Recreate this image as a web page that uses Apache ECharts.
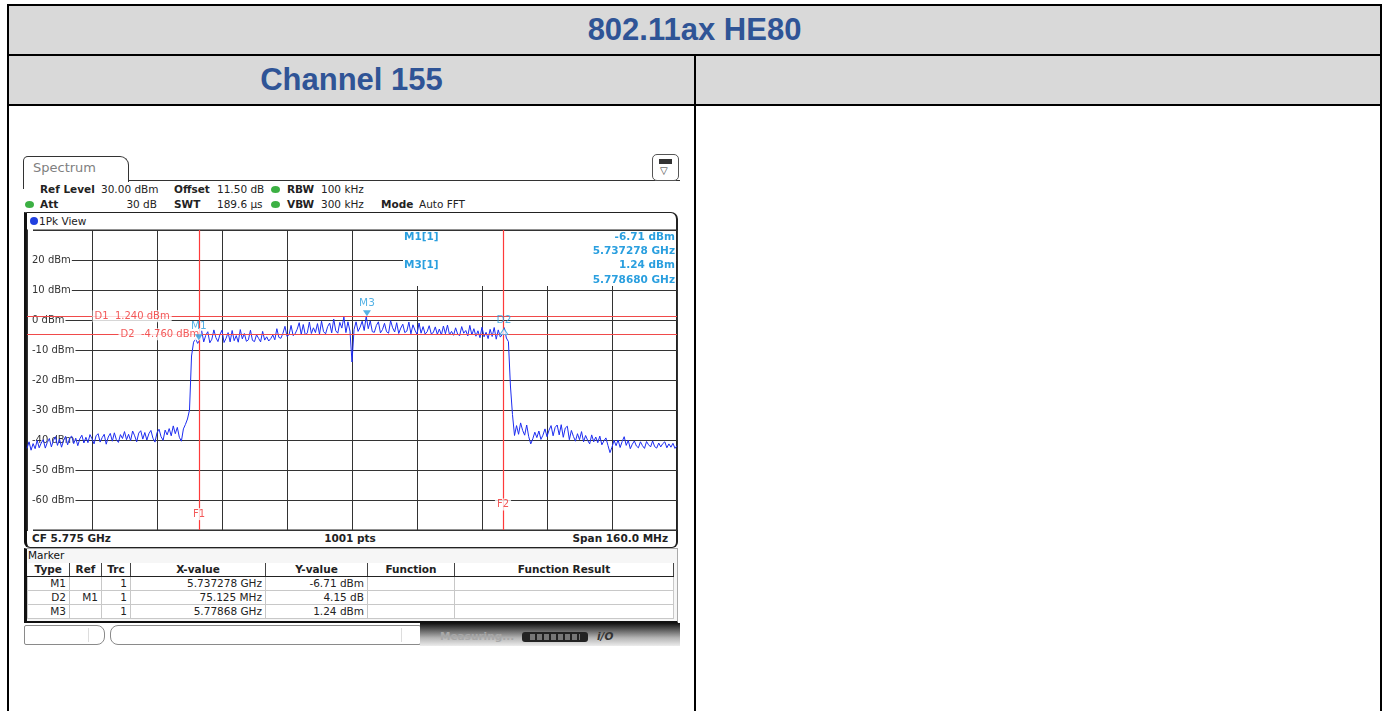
<!DOCTYPE html>
<html>
<head>
<meta charset="utf-8">
<title>802.11ax HE80 - Channel 155</title>
<script src="https://cdn.jsdelivr.net/npm/echarts@6/dist/echarts.min.js"></script>
<style>
html, body { margin: 0; padding: 0; overflow: hidden; background: #fff; font-family: "DejaVu Sans", sans-serif; }
.abs { position: absolute; box-sizing: border-box; }
.cell { border: 2px solid #000; }
.hd { background: #d9d9d9; color: #2f5496; font-family: "Liberation Sans", Arial, sans-serif; font-weight: bold; font-size: 31px; text-align: center; line-height: 48px; }
.t { position: absolute; font-size: 10.5px; line-height: 12px; color: #222; white-space: nowrap; }
.b { font-weight: bold; }
.dot { position: absolute; width: 9px; height: 7px; border-radius: 50%; background: #3cb043; }
.mk { position: absolute; left: 27px; top: 563px; border-collapse: collapse; table-layout: fixed; width: 646px; font-size: 10.5px; color: #222; }
.mk th { font-weight: bold; height: 13px; line-height: 13px; padding: 0; border-right: 1px solid #444; border-bottom: 1px solid #222; text-align: center; background: #fff; }
.mk td { height: 13px; line-height: 13px; padding: 0 3px 0 0; border: 1px solid #c8c8c8; text-align: right; background: #fff; white-space: nowrap; }
</style>
</head>
<body>
<!-- report table -->
<div class="abs cell hd" style="left:7px;top:4px;width:1375px;height:52px;">802.11ax HE80</div>
<div class="abs cell hd" style="left:7px;top:54px;width:689px;height:52px;">Channel 155</div>
<div class="abs cell hd" style="left:694px;top:54px;width:688px;height:52px;"></div>
<div class="abs cell" style="left:7px;top:104px;width:689px;height:620px;"></div>
<div class="abs cell" style="left:694px;top:104px;width:688px;height:620px;"></div>

<!-- analyzer header -->
<div class="abs" style="left:23px;top:156px;width:106px;height:26px;border:1px solid #333;border-bottom:none;border-radius:5px 9px 0 0;"></div>
<div class="abs" style="left:23px;top:181px;width:1px;height:8px;background:#333;"></div>
<div class="abs" style="left:128px;top:180px;width:552px;height:1px;background:#333;"></div>
<div class="t" style="left:33px;top:160px;font-size:13px;line-height:16px;color:#808080;">Spectrum</div>
<div class="abs" style="left:652px;top:154px;width:27px;height:27px;border:1px solid #555;border-radius:5px;background:#fff;"></div>
<div class="abs" style="left:659px;top:159px;width:13px;height:5px;background:#333;"></div>
<div class="t" style="left:660px;top:165px;font-size:10px;color:#333;">▽</div>

<div class="t b" style="left:40px;top:183px;">Ref Level</div>
<div class="t" style="left:101px;top:183px;">30.00 dBm</div>
<div class="t b" style="left:174px;top:183px;">Offset</div>
<div class="t" style="left:217px;top:183px;">11.50 dB</div>
<div class="dot" style="left:271px;top:186px;"></div>
<div class="t b" style="left:287px;top:183px;">RBW</div>
<div class="t" style="left:321px;top:183px;">100 kHz</div>

<div class="dot" style="left:25px;top:201px;"></div>
<div class="t b" style="left:40px;top:198px;">Att</div>
<div class="t" style="left:117px;top:198px;width:40px;text-align:right;">30 dB</div>
<div class="t b" style="left:174px;top:198px;">SWT</div>
<div class="t" style="left:217px;top:198px;">189.6 µs</div>
<div class="dot" style="left:271px;top:201px;"></div>
<div class="t b" style="left:287px;top:198px;">VBW</div>
<div class="t" style="left:321px;top:198px;">300 kHz</div>
<div class="t b" style="left:381px;top:198px;">Mode</div>
<div class="t" style="left:419px;top:198px;">Auto FFT</div>

<!-- plot frame -->
<div class="abs" style="left:24px;top:212px;width:654px;height:336px;border:1px solid #222;border-left:3px solid #111;border-right:2px solid #222;border-radius:0 7px 6px 6px;"></div>
<div class="abs" style="left:30px;top:217px;width:8px;height:8px;border-radius:50%;background:#2040e0;"></div>
<div class="t" style="left:39px;top:215px;">1Pk View</div>
<div class="t b" style="left:32px;top:532px;">CF 5.775 GHz</div>
<div class="t b" style="left:300px;top:532px;width:100px;text-align:center;">1001 pts</div>
<div class="t b" style="left:548px;top:532px;width:120px;text-align:right;">Span 160.0 MHz</div>

<!-- marker table -->
<div class="abs" style="left:24px;top:548px;width:654px;height:75px;background:#f6f6f6;border:1px solid #aaa;border-left:3px solid #111;border-bottom:2px solid #111;"></div>
<div class="t" style="left:28px;top:549px;color:#111;">Marker</div>
<table class="mk">
<colgroup><col style="width:42px"><col style="width:32px"><col style="width:29px"><col style="width:135px"><col style="width:102px"><col style="width:87px"><col style="width:219px"></colgroup>
<tr><th>Type</th><th>Ref</th><th>Trc</th><th>X-value</th><th>Y-value</th><th>Function</th><th>Function Result</th></tr>
<tr><td>M1</td><td></td><td>1</td><td>5.737278 GHz</td><td>-6.71 dBm</td><td></td><td></td></tr>
<tr><td>D2</td><td>M1</td><td>1</td><td>75.125 MHz</td><td>4.15 dB</td><td></td><td></td></tr>
<tr><td>M3</td><td></td><td>1</td><td>5.77868 GHz</td><td>1.24 dBm</td><td></td><td></td></tr>
</table>

<!-- status bar -->
<div class="abs" style="left:24px;top:625px;width:81px;height:20px;border:1px solid #8a8a8a;border-radius:2px 8px 8px 2px;background:#fff;"></div>
<div class="abs" style="left:88px;top:628px;width:1px;height:14px;background:#ddd;"></div>
<div class="abs" style="left:110px;top:625px;width:311px;height:20px;border:1px solid #8a8a8a;border-radius:8px 2px 2px 8px;background:#fff;"></div>
<div class="abs" style="left:401px;top:628px;width:1px;height:14px;background:#ddd;"></div>
<div class="abs" style="left:420px;top:623px;width:260px;height:23px;background:linear-gradient(#111 0%, #444 20%, #b5b5b5 65%, #ececec 100%);"></div>
<div class="t b" style="left:440px;top:630px;color:#a8a8a8;">Measuring...</div>
<div class="abs" style="left:522px;top:632px;width:66px;height:10px;background:#222;border-radius:3px;"></div>
<div class="abs" style="left:530px;top:634px;width:50px;height:6px;background:repeating-linear-gradient(90deg,#777 0 5px,#222 5px 7px);"></div>
<div class="t b" style="left:597px;top:630px;color:#333;font-style:italic;">i/O</div>

<div id="plot" class="abs" style="left:24px;top:210px;width:658px;height:340px;"></div>

<script>
// sweep: CF 5.775 GHz, span 160 MHz, x = offset from CF in MHz
const startMHz = -80;
const stepMHz = 0.5;

// trace levels (dBm), every 0.5 MHz
const traceLevel = [
  // -80 .. -40.5 MHz
  -42.8, -40.6, -43.4, -41.2, -42.9, -40.1, -42.6, -41.0, -39.9, -42.7,
  -40.8, -39.5, -42.3, -40.1, -38.9, -41.8, -39.7, -42.4, -40.2, -38.8,
  -41.6, -39.3, -38.7, -41.2, -39.4, -41.9, -39.6, -38.4, -41.0, -39.1,
  -40.9, -38.2, -39.6, -41.3, -38.6, -37.9, -40.7, -39.2, -38.1, -41.4,
  -39.0, -37.8, -40.4, -37.6, -39.9, -40.8, -38.2, -39.5, -37.2, -39.9,
  -38.1, -40.2, -37.0, -38.6, -40.6, -37.7, -36.9, -39.7, -37.5, -40.0,
  -37.9, -36.8, -39.4, -40.7, -37.6, -36.4, -38.9, -40.1, -36.7, -38.3,
  -36.2, -38.6, -35.3, -37.9, -35.8, -39.1, -40.4, -36.3, -34.8, -33.0,
  // -40 .. -0.5 MHz
  -30.0, -12.0, -7.4, -6.2, -7.8, -6.7, -3.6, -7.3, -5.1, -3.9,
  -7.6, -6.4, -3.3, -5.9, -7.2, -4.8, -3.4, -7.5, -6.1, -4.2,
  -7.3, -3.5, -6.9, -5.2, -7.4, -3.2, -6.3, -4.5, -7.1, -6.6,
  -3.4, -6.8, -7.2, -4.9, -6.1, -7.3, -3.8, -6.7, -5.6, -7.0,
  -6.2, -5.0, -6.6, -2.9, -5.8, -6.1, -4.4, -2.1, -5.5, -4.9,
  -1.8, -5.2, -4.6, -3.1, -0.9, -4.8, -1.5, -5.0, -4.3, -0.7,
  -4.5, -2.6, -4.2, -1.2, -4.7, -0.4, -3.9, -4.6, -2.2, -1.0,
  -4.3, 0.3, -3.6, -4.4, -0.8, -2.7, 1.0, -4.2, -0.6, -3.7,
  // 0 MHz (DC notch)
  -14.0,
  // 0.5 .. 40 MHz
  -3.2, -0.6, -3.8, -2.4, -0.4, -3.5, 1.24, -2.9, -0.3, -3.9,
  -4.1, -1.8, -0.6, -4.3, -3.2, -1.1, -3.9, -4.4, -0.2, -2.6,
  -4.0, -0.9, -4.5, -2.7, -1.4, -4.2, -3.7, -0.7, -4.6, -1.6,
  -3.4, -4.8, -1.0, -4.4, -2.2, -4.7, -3.9, -1.9, -4.6, -4.2,
  -2.3, -4.8, -3.0, -5.0, -2.0, -4.6, -1.7, -4.9, -3.8, -5.1,
  -2.6, -4.7, -5.2, -2.2, -4.4, -3.5, -5.3, -1.8, -5.0, -2.9,
  -5.4, -3.6, -5.9, -2.4, -5.6, -4.1, -6.2, -3.1, -5.5, -2.5,
  -6.4, -3.3, -5.7, -4.8, -2.56, -6.0, -7.2, -22.0, -31.5, -38.5,
  // 40.5 .. 80 MHz
  -35.2, -38.1, -34.3, -36.8, -38.4, -35.0, -38.9, -41.3, -39.6, -37.4,
  -39.2, -37.0, -39.8, -38.4, -36.3, -38.9, -36.7, -35.2, -38.6, -35.8,
  -35.0, -38.3, -34.9, -39.1, -36.0, -35.4, -39.9, -36.8, -38.8, -40.4,
  -37.9, -39.9, -37.2, -40.6, -38.5, -40.1, -41.3, -38.3, -40.6, -39.0,
  -40.9, -38.7, -41.6, -40.3, -39.3, -41.8, -44.2, -42.4, -40.1, -41.9,
  -40.0, -42.5, -40.5, -38.9, -41.8, -40.1, -42.9, -41.4, -40.3, -42.0,
  -42.6, -40.6, -41.9, -42.8, -40.5, -41.6, -42.3, -40.3, -42.2, -42.7,
  -41.0, -42.3, -41.2, -40.6, -42.6, -41.3, -42.4, -41.1, -42.8, -41.9
];

// markers
const markerNames = ['M1', 'M3', 'D2'];
const markerFreqMHz = [-37.722, 3.68, 37.403];
const markerLevel = [-6.71, 1.24, -2.56];

// display lines D1/D2 and frequency lines F1/F2
const displayLineLevel = [1.24, -4.76];
const freqLineMHz = [-37.66, 37.17];

// red line labels
const lineLabelText = ['D1  1.240 dBm', 'D2  -4.760 dBm', 'F1', 'F2'];
const lineLabelFreq = [-64, -57.6, -37.66, 37.17];
const lineLabelLevel = [1.24, -4.76, -64.7, -61.5];

// marker info box
const infoLeft = ['M1[1]', '', 'M3[1]', ''];
const infoRight = ['-6.71 dBm', '5.737278 GHz', '1.24 dBm', '5.778680 GHz'];

const traceData = traceLevel.map(function (v, i) { return [startMHz + i * stepMHz, v]; });

const blue = '#2a9fdf';
const red = '#f0302f';
const infoFont = 'bold 10.5px "DejaVu Sans"';

let chart = echarts.init(document.getElementById('plot'));

let graphics = [{
    type: 'rect', z: 1,
    shape: { x: 379, y: 21, width: 273, height: 55 },
    style: { fill: '#fff' }
}];
const infoY = [27, 41, 55.5, 70];
infoY.forEach(function (y, i) {
    if (infoLeft[i]) {
        graphics.push({ type: 'text', z: 5, style: { text: infoLeft[i], x: 380, y: y, fill: blue, font: infoFont, textAlign: 'left', align: 'left', textVerticalAlign: 'middle', verticalAlign: 'middle' } });
    }
    graphics.push({ type: 'text', z: 5, style: { text: infoRight[i], x: 651, y: y, fill: blue, font: infoFont, textAlign: 'right', align: 'right', textVerticalAlign: 'middle', verticalAlign: 'middle' } });
});

let option = {
    animation: false,
    grid: { left: 3, top: 20, width: 650, height: 300, show: true, borderColor: '#222', borderWidth: 1, backgroundColor: 'rgba(0,0,0,0)' },
    xAxis: {
        type: 'value', min: -80, max: 80, interval: 16,
        axisLabel: { show: false }, axisTick: { show: false }, axisLine: { show: false },
        splitLine: { lineStyle: { color: '#333', width: 1 } }
    },
    yAxis: {
        type: 'value', min: -70, max: 30, interval: 10,
        axisLine: { show: false }, axisTick: { show: false },
        splitLine: { lineStyle: { color: '#333', width: 1 } },
        axisLabel: {
            inside: true, margin: 1,
            formatter: function (v) { return (v === 30 || v === -70) ? '' : v + ' dBm'; },
            color: '#333', fontSize: 10, fontFamily: 'DejaVu Sans',
            backgroundColor: '#fff', padding: [1, 1, 1, 4]
        }
    },
    graphic: graphics,
    series: [{
        name: '1Pk View',
        type: 'line',
        data: traceData,
        showSymbol: false,
        silent: true,
        z: 3,
        lineStyle: { color: '#1c2cf0', width: 1 },
        markLine: {
            silent: true,
            symbol: 'none',
            label: { show: false },
            lineStyle: { color: '#f04a4a', width: 1, type: 'solid', opacity: 1 },
            data: displayLineLevel.map(function (v) { return { yAxis: v }; })
                .concat(freqLineMHz.map(function (v) {
                    return { xAxis: v, lineStyle: { color: '#ff3a3a', width: 1.2, opacity: 1 } };
                }))
        }
    }, {
        name: 'markers',
        type: 'scatter',
        z: 6,
        silent: true,
        data: markerNames.map(function (n, i) {
            let item = { name: n, value: [markerFreqMHz[i], markerLevel[i]] };
            if (n === 'D2') {
                item.symbol = 'path://M5,0 L10,8 L0,8 Z';
                item.symbolOffset = [0, 4];
                item.itemStyle = { color: '#fff', borderColor: blue, borderWidth: 1 };
            }
            return item;
        }),
        symbol: 'path://M0,0 L10,0 L5,8 Z',
        symbolSize: [8, 6],
        symbolOffset: [0, -3],
        itemStyle: { color: blue },
        label: { show: true, position: 'top', distance: 2, formatter: '{b}', color: blue, fontSize: 10.5, fontFamily: 'DejaVu Sans' }
    }, {
        name: 'line labels',
        type: 'scatter',
        z: 5,
        silent: true,
        symbolSize: 1,
        itemStyle: { color: 'rgba(0,0,0,0)' },
        data: lineLabelText.map(function (t, i) {
            return {
                name: t,
                value: [lineLabelFreq[i], lineLabelLevel[i]],
                label: { position: i < 2 ? 'right' : 'inside', distance: 0 }
            };
        }),
        label: { show: true, formatter: '{b}', color: red, fontSize: 10, fontFamily: 'DejaVu Sans', backgroundColor: '#fff', padding: [1, 2] }
    }]
};

chart.setOption(option);
window.addEventListener('resize', function () {
    chart.resize();
});
</script>
</body>
</html>
